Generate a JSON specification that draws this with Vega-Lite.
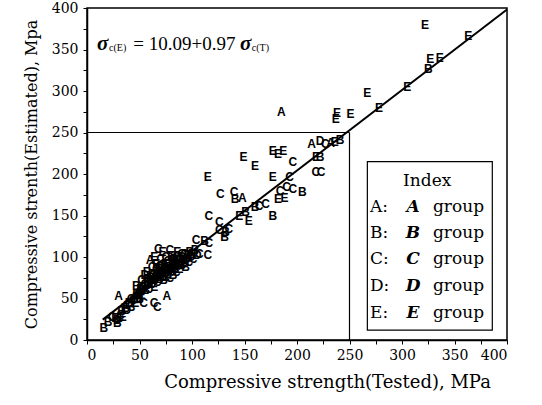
{
"$schema":"https://vega.github.io/schema/vega-lite/v6.json",
"autosize":"none",
"width":420,"height":332,
"padding":{"left":87,"top":8,"right":35,"bottom":65},
"background":"white",
"config":{"view":{"stroke":"black","strokeWidth":1.5},
"axis":{"labelFont":"DejaVu Serif","labelFontSize":14,"labelColor":"black","titleFont":"DejaVu Serif","titleFontSize":16,"titleFontWeight":"normal","titleColor":"black","domainColor":"black","domainWidth":1.5,"tickColor":"black","grid":false,"tickSize":4}},
"datasets":{
"pts":[
{"x":322,"y":380,"g":"E"},{"x":363,"y":366,"g":"E"},{"x":327,"y":338,"g":"E"},{"x":336,"y":340,"g":"E"},{"x":325,"y":326,"g":"B"},{"x":305,"y":305,"g":"E"},{"x":267,"y":298,"g":"E"},{"x":278,"y":279,"g":"E"},{"x":185,"y":275,"g":"A"},{"x":238,"y":273,"g":"E"},{"x":237,"y":266,"g":"E"},{"x":251,"y":272,"g":"E"},
{"x":214,"y":236,"g":"A"},{"x":222,"y":240,"g":"D"},{"x":227,"y":236,"g":"C"},{"x":232,"y":237,"g":"A"},{"x":241,"y":241,"g":"B"},{"x":236,"y":239,"g":"E"},{"x":218,"y":220,"g":"E"},{"x":222,"y":221,"g":"B"},{"x":218,"y":202,"g":"C"},{"x":223,"y":203,"g":"C"},
{"x":177,"y":228,"g":"E"},{"x":182,"y":224,"g":"E"},{"x":187,"y":228,"g":"E"},{"x":149,"y":220,"g":"E"},{"x":160,"y":210,"g":"E"},{"x":196,"y":214,"g":"C"},{"x":115,"y":196,"g":"E"},{"x":177,"y":196,"g":"E"},{"x":127,"y":176,"g":"C"},{"x":140,"y":178,"g":"C"},{"x":141,"y":170,"g":"B"},{"x":148,"y":171,"g":"A"},{"x":116,"y":150,"g":"C"},{"x":126,"y":142,"g":"C"},{"x":154,"y":143,"g":"E"},{"x":177,"y":150,"g":"B"},{"x":182,"y":170,"g":"E"},{"x":188,"y":171,"g":"E"},{"x":184,"y":180,"g":"C"},{"x":190,"y":184,"g":"C"},{"x":196,"y":182,"g":"C"},{"x":205,"y":178,"g":"B"},{"x":193,"y":196,"g":"C"},
{"x":145,"y":150,"g":"E"},{"x":151,"y":154,"g":"B"},{"x":160,"y":160,"g":"B"},{"x":164,"y":162,"g":"C"},{"x":170,"y":164,"g":"C"},{"x":126,"y":133,"g":"C"},{"x":132,"y":130,"g":"B"},{"x":135,"y":134,"g":"C"},{"x":131,"y":124,"g":"B"},{"x":104,"y":121,"g":"C"},{"x":112,"y":119,"g":"B"},{"x":116,"y":117,"g":"C"},{"x":115,"y":103,"g":"C"},{"x":107,"y":104,"g":"C"},
{"x":16,"y":14,"g":"B"},{"x":29,"y":20,"g":"B"},{"x":30,"y":53,"g":"A"},{"x":60,"y":96,"g":"A"},{"x":76,"y":53,"g":"A"},{"x":54,"y":44,"g":"C"},{"x":64,"y":45,"g":"C"},{"x":67,"y":40,"g":"C"},{"x":70,"y":98,"g":"C"},{"x":75,"y":100,"g":"C"},{"x":80,"y":101,"g":"E"},{"x":85,"y":100,"g":"C"},{"x":55,"y":78,"g":"D"},{"x":47,"y":65,"g":"B"},{"x":58,"y":74,"g":"D"},
{"x":68,"y":110,"g":"C"},{"x":72,"y":106,"g":"E"},{"x":79,"y":108,"g":"C"},{"x":86,"y":106,"g":"E"},{"x":90,"y":104,"g":"C"},{"x":64,"y":100,"g":"E"},{"x":77,"y":95,"g":"C"},{"x":83,"y":97,"g":"D"},{"x":52,"y":72,"g":"C"},{"x":57,"y":82,"g":"E"},{"x":62,"y":80,"g":"B"},{"x":66,"y":86,"g":"C"},{"x":70,"y":88,"g":"D"},{"x":74,"y":92,"g":"E"},{"x":88,"y":92,"g":"C"},{"x":93,"y":96,"g":"B"},{"x":38,"y":36,"g":"D"},{"x":42,"y":50,"g":"C"},{"x":46,"y":44,"g":"E"},{"x":50,"y":50,"g":"B"},{"x":34,"y":28,"g":"E"},{"x":31,"y":26,"g":"C"},
{"x":64,"y":72,"g":"B"},{"x":67,"y":76,"g":"E"},{"x":71,"y":80,"g":"D"},{"x":73,"y":86,"g":"C"},{"x":76,"y":82,"g":"B"},{"x":79,"y":86,"g":"D"},{"x":81,"y":90,"g":"E"},{"x":84,"y":86,"g":"B"},{"x":86,"y":96,"g":"C"},{"x":89,"y":92,"g":"D"},{"x":68,"y":80,"g":"E"},{"x":72,"y":76,"g":"C"},{"x":78,"y":84,"g":"B"},{"x":82,"y":92,"g":"D"},{"x":60,"y":76,"g":"C"},{"x":58,"y":70,"g":"B"},{"x":53,"y":60,"g":"D"},{"x":49,"y":56,"g":"C"},
{"x":20,"y":22,"g":"B"},{"x":24,"y":28,"g":"C"},{"x":27,"y":26,"g":"E"},{"x":29,"y":24,"g":"D"},{"x":32,"y":30,"g":"C"},{"x":33,"y":35,"g":"B"},{"x":36,"y":38,"g":"E"},{"x":38,"y":42,"g":"C"},{"x":40,"y":44,"g":"D"},{"x":42,"y":40,"g":"B"},{"x":44,"y":48,"g":"C"},{"x":45,"y":52,"g":"A"},{"x":47,"y":55,"g":"E"},{"x":48,"y":50,"g":"D"},{"x":50,"y":58,"g":"C"},{"x":51,"y":62,"g":"B"},{"x":52,"y":54,"g":"E"},{"x":54,"y":64,"g":"D"},{"x":55,"y":67,"g":"C"},{"x":56,"y":60,"g":"B"},{"x":57,"y":70,"g":"E"},{"x":58,"y":66,"g":"D"},{"x":59,"y":62,"g":"C"},{"x":60,"y":68,"g":"E"},{"x":61,"y":72,"g":"B"},{"x":62,"y":68,"g":"D"},{"x":63,"y":78,"g":"C"},{"x":64,"y":64,"g":"E"},{"x":65,"y":75,"g":"B"},{"x":66,"y":80,"g":"D"},{"x":67,"y":70,"g":"C"},{"x":68,"y":86,"g":"E"},{"x":69,"y":74,"g":"B"},{"x":70,"y":78,"g":"D"},{"x":71,"y":90,"g":"C"},{"x":72,"y":82,"g":"E"},{"x":73,"y":72,"g":"B"},{"x":74,"y":84,"g":"D"},{"x":75,"y":76,"g":"C"},{"x":76,"y":88,"g":"E"},{"x":77,"y":80,"g":"B"},{"x":78,"y":92,"g":"D"},{"x":79,"y":75,"g":"C"},{"x":80,"y":86,"g":"E"},{"x":81,"y":96,"g":"C"},{"x":82,"y":78,"g":"B"},{"x":83,"y":88,"g":"D"},{"x":84,"y":94,"g":"E"},{"x":85,"y":82,"g":"C"},{"x":86,"y":92,"g":"B"},{"x":87,"y":96,"g":"D"},{"x":88,"y":85,"g":"E"},{"x":89,"y":98,"g":"C"},{"x":90,"y":90,"g":"B"},{"x":91,"y":100,"g":"D"},{"x":92,"y":94,"g":"E"},{"x":93,"y":104,"g":"C"},{"x":94,"y":88,"g":"B"},{"x":95,"y":98,"g":"D"},{"x":96,"y":102,"g":"E"},{"x":97,"y":94,"g":"C"},{"x":98,"y":106,"g":"B"},{"x":99,"y":100,"g":"D"},{"x":100,"y":104,"g":"E"},{"x":101,"y":98,"g":"C"},{"x":103,"y":108,"g":"B"},{"x":105,"y":103,"g":"D"},{"x":62,"y":88,"g":"C"},{"x":66,"y":92,"g":"E"}
],
"line":[{"x":15,"y":24.6},{"x":400,"y":398.1}],
"refs":[{"x":0,"x2":250,"y":250,"y2":250},{"x":250,"x2":250,"y":0,"y2":250}],
"box":[{"x":267,"x2":386,"y":12,"y2":215}],
"legtitle":[{"x":324,"y":191,"t":"Index"}],
"legrows":[
{"x":269.5,"xl":310.5,"xg":329.5,"y":160,"k":"A:","l":"A"},
{"x":269.5,"xl":310.5,"xg":329.5,"y":129,"k":"B:","l":"B"},
{"x":269.5,"xl":310.5,"xg":329.5,"y":98,"k":"C:","l":"C"},
{"x":269.5,"xl":310.5,"xg":329.5,"y":65,"k":"D:","l":"D"},
{"x":269.5,"xl":310.5,"xg":329.5,"y":32.5,"k":"E:","l":"E"}],
"eq":[
{"x":9.5,"y":357,"t":"σ","p":"s"},
{"x":145.7,"y":357,"t":"σ","p":"s"},
{"x":21,"y":352,"t":"c(E)","p":"b"},
{"x":157,"y":352,"t":"c(T)","p":"b"},
{"x":44,"y":357,"t":"= 10.09+0.97","p":"m"}]
},
"encoding":{
"x":{"field":"x","type":"quantitative","scale":{"domain":[0,400],"nice":false},
"axis":{"values":[0,25,50,75,100,125,150,175,200,225,250,275,300,325,350,375,400],"labelExpr":"datum.value % 50 == 0 ? datum.label : ''","title":"Compressive strength(Tested), MPa","titleFontSize":18,"titleX":240,"titlePadding":11,"labelPadding":4}},
"y":{"field":"y","type":"quantitative","scale":{"domain":[0,400],"nice":false},
"axis":{"values":[0,25,50,75,100,125,150,175,200,225,250,275,300,325,350,375,400],"labelExpr":"datum.value % 50 == 0 ? datum.label : ''","title":"Compressive strenth(Estimated), Mpa","titlePadding":12,"labelPadding":5}}
},
"layer":[
{"data":{"name":"refs"},"mark":{"type":"rule","color":"black","strokeWidth":1.2},"encoding":{"x2":{"field":"x2"},"y2":{"field":"y2"}}},
{"data":{"name":"line"},"mark":{"type":"line","color":"black","strokeWidth":2}},
{"data":{"name":"pts"},"mark":{"type":"text","font":"Liberation Sans","fontWeight":"bold","fontSize":12,"color":"black"},"encoding":{"text":{"field":"g"}}},
{"data":{"name":"box"},"mark":{"type":"rect","fill":"white","stroke":"black","strokeWidth":1.2},"encoding":{"x2":{"field":"x2"},"y2":{"field":"y2"}}},
{"data":{"name":"legtitle"},"mark":{"type":"text","font":"DejaVu Serif","fontSize":17,"color":"black","align":"center"},"encoding":{"text":{"field":"t"}}},
{"data":{"name":"legrows"},"mark":{"type":"text","font":"DejaVu Serif","fontSize":17,"color":"black","align":"left"},"encoding":{"text":{"field":"k"}}},
{"data":{"name":"legrows"},"mark":{"type":"text","font":"DejaVu Serif","fontSize":17,"fontWeight":"bold","fontStyle":"italic","color":"black","align":"center"},"encoding":{"x":{"field":"xl","type":"quantitative"},"text":{"field":"l"}}},
{"data":{"name":"legrows"},"mark":{"type":"text","font":"DejaVu Serif","fontSize":17,"color":"black","align":"left"},"encoding":{"x":{"field":"xg","type":"quantitative"},"text":{"value":"group"}}},
{"data":{"name":"eq"},"transform":[{"filter":"datum.p == 's'"}],"mark":{"type":"text","font":"Liberation Serif","fontSize":21,"fontWeight":"bold","fontStyle":"italic","color":"black","align":"left"},"encoding":{"text":{"field":"t"}}},
{"data":{"name":"eq"},"transform":[{"filter":"datum.p == 'b'"}],"mark":{"type":"text","font":"Liberation Serif","fontSize":10,"color":"black","align":"left"},"encoding":{"text":{"field":"t"}}},
{"data":{"name":"eq"},"transform":[{"filter":"datum.p == 'm'"}],"mark":{"type":"text","font":"Liberation Serif","fontSize":19,"color":"black","align":"left"},"encoding":{"text":{"field":"t"}}}
]
}
